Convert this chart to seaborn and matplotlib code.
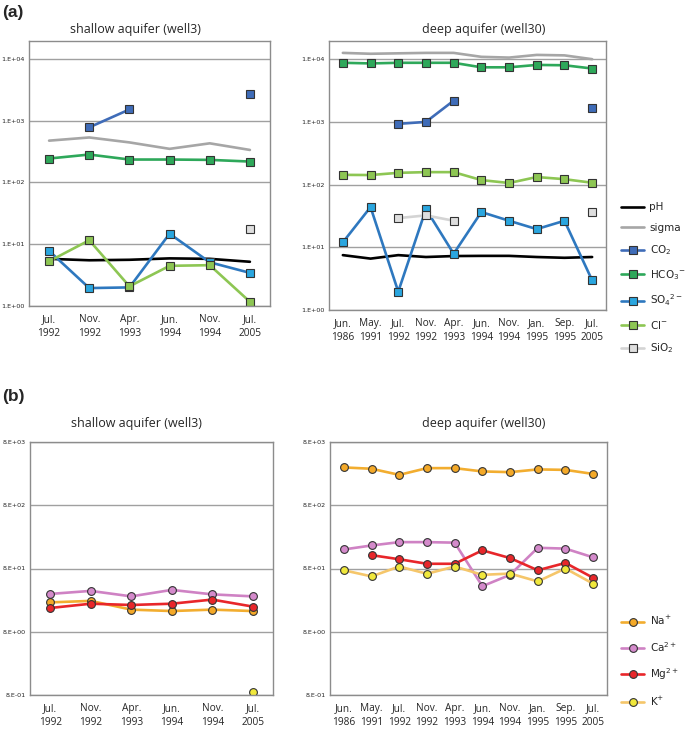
import numpy as np
import pandas as pd
import matplotlib
matplotlib.use('Agg')
import matplotlib.pyplot as plt
from matplotlib.lines import Line2D
import seaborn as sns

sns.set_style('white')
plt.rcParams['font.family'] = ['Open Sans', 'DejaVu Sans']
plt.rcParams['mathtext.default'] = 'regular'

nan = np.nan

shallow_dates = ['Jul.\n1992', 'Nov.\n1992', 'Apr.\n1993', 'Jun.\n1994', 'Nov.\n1994', 'Jul.\n2005']
deep_dates = ['Jun.\n1986', 'May.\n1991', 'Jul.\n1992', 'Nov.\n1992', 'Apr.\n1993',
              'Jun.\n1994', 'Nov.\n1994', 'Jan.\n1995', 'Sep.\n1995', 'Jul.\n2005']

# (a) shallow aquifer, well3
w3_ph = [5.8, 5.5, 5.6, 5.9, 5.8, 5.2]
w3_sigma = [475, 535, 445, 350, 430, 336]
w3_co2 = [nan, 780, 1520, nan, nan, 2660]
w3_hco3 = [244, 283, 235, 235, 232, 218]
w3_so4 = [7.8, 1.95, 2.0, 14.8, 5.1, 3.44]
w3_cl = [5.3, 11.6, 2.08, 4.47, 4.58, 1.17]
w3_sio2 = [nan, nan, nan, nan, nan, 17.9]

# (a) deep aquifer, well30
w30_ph = [7.5, 6.6, 7.5, 7.0, 7.25, 7.3, 7.3, 7.0, 6.8, 7.0]
w30_sigma = [12600, 12200, 12400, 12600, 12600, 10900, 10600, 11700, 11500, 10000]
w30_co2 = [nan, nan, 930, 1000, 2180, nan, nan, nan, nan, 1660]
w30_hco3 = [8760, 8560, 8760, 8760, 8760, 7420, 7420, 8100, 8000, 7100]
w30_so4 = [12.0, 43.8, 1.96, 40.7, 7.9, 36.5, 26.5, 19.5, 26.5, 2.97]
w30_cl = [143, 142, 154, 158, 158, 118, 106, 132, 122, 107]
w30_sio2 = [nan, nan, 29.2, 32.3, 26.5, nan, nan, nan, nan, 36.9]

# (b) cations
w3_na = [23.3, 24.6, 17.9, 17.0, 17.9, 17.0]
w3_ca = [31.7, 35.4, 29.0, 36.7, 31.2, 29.0]
w3_mg = [19.0, 22.2, 21.2, 22.2, 25.8, 20.0]
w3_k = [nan, nan, nan, nan, nan, 0.88]

w30_na = [3170, 3020, 2420, 3090, 3090, 2740, 2670, 2950, 2900, 2500]
w30_ca = [160, 185, 209, 209, 205, 42, 63.5, 170, 165, 120]
w30_mg = [nan, 130, 112, 95, 95, 155, 117, 75, 98, 57]
w30_k = [75, 60, 86, 66, 86, 63.5, 66.5, 50, 80, 46]

anion_labels = ['pH', 'sigma', 'CO$_2$', 'HCO$_3$$^{-}$', 'SO$_4$$^{2-}$', 'Cl$^{-}$', 'SiO$_2$']
cation_labels = ['Na$^{+}$', 'Ca$^{2+}$', 'Mg$^{2+}$', 'K$^{+}$']

# line colour, marker face colour, marker
anion_styles = [
    ('black', None, None),
    ('#a6a6a6', None, None),
    ('#3f6cb8', '#3f6cb8', 's'),
    ('#2ea85a', '#2ea85a', 's'),
    ('#2e78bf', '#2aa6df', 's'),
    ('#8dc653', '#8dc653', 's'),
    ('#d4d4d4', '#dedede', 's'),
]
cation_styles = [
    ('#f2ad2f', '#f4a928', 'o'),
    ('#cf82c4', '#d48acb', 'o'),
    ('#e8262a', '#e8262a', 'o'),
    ('#f5c66a', '#f0e83c', 'o'),
]


def draw(ax, values, style, ms):
    color, mfc, marker = style
    df = pd.DataFrame({'x': np.arange(len(values)), 'y': values})
    df['seg'] = df['y'].isna().cumsum()
    df = df.dropna()
    kws = dict(color=color, lw=1.9)
    if marker:
        kws.update(marker=marker, ms=ms, mfc=mfc, mec='#333333', mew=0.8)
    sns.lineplot(data=df, x='x', y='y', units='seg', estimator=None, sort=False,
                 legend=False, ax=ax, **kws)


def style_axes(ax, dates, ymin, ymax, ticks, ticklabels):
    ax.set_yscale('log')
    ax.set_ylim(ymin, ymax)
    ax.set_xlim(-0.5, len(dates) - 0.5)
    ax.set_xticks(range(len(dates)))
    ax.set_xticklabels(dates, fontsize=7.3, linespacing=1.3)
    ax.set_yticks(ticks)
    ax.set_yticklabels(ticklabels, fontsize=4.6, family=['Liberation Sans Narrow', 'DejaVu Sans'])
    ax.minorticks_off()
    ax.tick_params(axis='x', length=0, pad=6)
    ax.tick_params(axis='y', length=0, pad=3)
    ax.set_xlabel('')
    ax.set_ylabel('')
    for t in ticks:
        ax.axhline(t, color='#a0a0a0', lw=1.0, zorder=0)
    for s in ax.spines.values():
        s.set_color('#8c8c8c')
        s.set_linewidth(1.0)


fig = plt.figure(figsize=(6.85, 7.31), dpi=100)
ax1 = fig.add_axes([29 / 685, 1 - 306 / 731, 241 / 685, 265 / 731])
ax2 = fig.add_axes([329 / 685, 1 - 310 / 731, 277 / 685, 269 / 731])
ax3 = fig.add_axes([30 / 685, 1 - 695 / 731, 243 / 685, 253 / 731])
ax4 = fig.add_axes([330 / 685, 1 - 695 / 731, 277 / 685, 253 / 731])

top_ticks = [1, 10, 100, 1000, 10000]
top_labels = ['1.E+00', '1.E+01', '1.E+02', '1.E+03', '1.E+04']
bot_ticks = [0.8, 8, 80, 800, 8000]
bot_labels = ['8.E-01', '8.E+00', '8.E+01', '8.E+02', '8.E+03']

for series, st in zip([w3_ph, w3_sigma, w3_co2, w3_hco3, w3_so4, w3_cl, w3_sio2], anion_styles):
    draw(ax1, series, st, 5.2)
for series, st in zip([w30_ph, w30_sigma, w30_co2, w30_hco3, w30_so4, w30_cl, w30_sio2], anion_styles):
    draw(ax2, series, st, 5.2)
for series, st in zip([w3_na, w3_ca, w3_mg, w3_k], cation_styles):
    draw(ax3, series, st, 5.6)
for series, st in zip([w30_na, w30_ca, w30_mg, w30_k], cation_styles):
    draw(ax4, series, st, 5.6)

style_axes(ax1, shallow_dates, 1, 10 ** 4.29, top_ticks, top_labels)
style_axes(ax2, deep_dates, 1, 10 ** 4.29, top_ticks, top_labels)
style_axes(ax3, shallow_dates, 0.8, 8000, bot_ticks, bot_labels)
style_axes(ax4, deep_dates, 0.8, 8000, bot_ticks, bot_labels)

fig.text(2 / 685, 1 - 13 / 731, '(a)', fontsize=12.5, fontweight='bold', va='center',
         family=['Liberation Sans', 'DejaVu Sans'])
fig.text(2 / 685, 1 - 396 / 731, '(b)', fontsize=12.5, fontweight='bold', va='center',
         family=['Liberation Sans', 'DejaVu Sans'])
for x, y, s in [(135, 29, 'shallow aquifer (well3)'), (484, 29, 'deep aquifer (well30)'),
                (136, 424, 'shallow aquifer (well3)'), (484, 424, 'deep aquifer (well30)')]:
    fig.text(x / 685, 1 - y / 731, s, fontsize=9, ha='center', va='center')


def handles(styles, ms):
    out = []
    for color, mfc, marker in styles:
        if marker:
            out.append(Line2D([], [], color=color, lw=1.9, marker=marker, ms=ms, mfc=mfc, mec='#333333', mew=0.8))
        else:
            out.append(Line2D([], [], color=color, lw=1.9))
    return out


leg_font = {'family': ['Liberation Sans Narrow', 'DejaVu Sans'], 'size': 7.5}
fig.legend(handles(anion_styles, 5.2), anion_labels, loc='upper left',
           bbox_to_anchor=(612 / 685, 1 - 193 / 731), frameon=False, prop=leg_font,
           handlelength=2.2, labelspacing=1.02, handletextpad=0.5)
fig.legend(handles(cation_styles, 5.6), cation_labels, loc='upper left',
           bbox_to_anchor=(612 / 685, 1 - 605 / 731), frameon=False, prop=leg_font,
           handlelength=2.2, labelspacing=1.2, handletextpad=0.5)

fig.savefig('out.png', dpi=100)
